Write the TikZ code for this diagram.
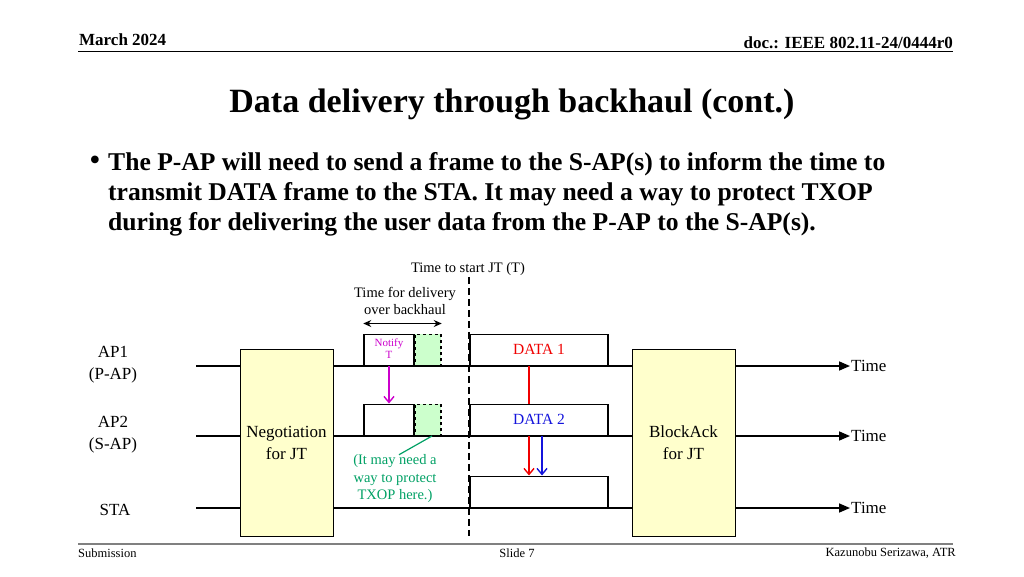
\documentclass[tikz,border=0pt]{standalone}
\usepackage{fontspec}
\setmainfont{Liberation Serif}
\usepackage{tikz}
\usetikzlibrary{arrows.meta,positioning,calc}

\definecolor{jtyellow}{RGB}{255,255,204}
\definecolor{guardgreen}{RGB}{204,255,204}
\definecolor{notifymag}{RGB}{204,0,204}
\definecolor{protgreen}{RGB}{0,160,100}
\definecolor{datared}{RGB}{240,0,0}
\definecolor{datablue}{RGB}{20,20,220}

\tikzset{
  timeline/.style={line width=1.6pt,-{Triangle[length=11pt,width=9pt]}},
  timelbl/.style={anchor=west,inner sep=1pt,font=\fontsize{17}{20}\selectfont},
  stalbl/.style={align=center,font=\fontsize{17}{22}\selectfont},
  jtbox/.style={draw,fill=jtyellow,line width=0.9pt,minimum height=187pt,align=center,
    font=\fontsize{17}{22}\selectfont},
  framebox/.style={draw,fill=white,line width=1.5pt,minimum height=31pt,inner sep=0pt},
  guardbox/.style={draw,fill=guardgreen,dashed,line width=1.5pt,minimum width=26pt,minimum height=31pt,inner sep=0pt},
  smalltxt/.style={align=center,font=\fontsize{14.5}{17.5}\selectfont,inner sep=1pt},
  sigarrow/.style={line width=1.4pt,-{Straight Barb[length=6pt,width=10pt]}}
}

\begin{document}
\begin{tikzpicture}[x=1pt,y=-1pt]
  \useasboundingbox (0,0) rectangle (1024,576);

  % header and footer
  \node[anchor=west,inner sep=0pt,font=\bfseries\fontsize{17}{20}\selectfont] (month) at (79,40) {March 2024};
  \node[anchor=east,inner sep=0pt,font=\bfseries\fontsize{17}{20}\selectfont] (docno) at (953,43) {doc.: IEEE 802.11-24/0444r0};
  \coordinate (hl) at (78,51);
  \coordinate (hr) at (953,51);
  \draw[line width=0.8pt] (hl) -- (hr);
  \coordinate (fl) at (78,544);
  \coordinate (fr) at (953,544);
  \draw[line width=1.6pt,gray] (fl) -- (fr);
  \node[anchor=west,inner sep=0pt,font=\fontsize{12.5}{15}\selectfont] (sub) at (78,553) {Submission};
  \node[inner sep=0pt,font=\fontsize{12.5}{15}\selectfont] (slide) at (517,553) {Slide 7};
  \node[anchor=east,inner sep=0pt,font=\fontsize{12.5}{15}\selectfont] (auth) at (956,553) {Kazunobu Serizawa, ATR};

  % title and bullet
  \node[font=\bfseries\fontsize{34}{40}\selectfont] (title) at (512,104) {Data delivery through backhaul (cont.)};
  \node[font=\fontsize{32}{34}\selectfont,inner sep=0pt] (bul) at (95,163) {\textbullet};
  \node[anchor=west,align=left,inner sep=0pt,font=\bfseries\fontsize{25.6}{30}\selectfont] (txt) at (108,194)
    {The P-AP will need to send a frame to the S-AP(s) to inform the time to\\
     transmit DATA frame to the STA. It may need a way to protect TXOP\\
     during for delivering the user data from the P-AP to the S-AP(s).};

  % stations and time axes
  \node[stalbl] (ap1) at (113,365) {AP1\\(P-AP)};
  \node[stalbl] (ap2) at (113,435) {AP2\\(S-AP)};
  \node[stalbl] (sta) at (115,510) {STA};
  \node[timelbl] (t1) at (850,366) {Time};
  \node[timelbl] (t2) at (850,436) {Time};
  \node[timelbl] (t3) at (850,508) {Time};
  \coordinate (s1) at (196,366);
  \coordinate (s2) at (196,436);
  \coordinate (s3) at (196,508);
  \draw[timeline] (s1) -- (t1.west);
  \draw[timeline] (s2) -- (t2.west);
  \draw[timeline] (s3) -- (t3.west);

  % JT time
  \node[smalltxt] (jtstart) at (468,269) {Time to start JT (T)};
  \coordinate (jtend) at (469,536);
  \draw[line width=1.7pt,dash pattern=on 7pt off 4pt] (jtstart.south -| jtend) -- (jtend);

  % negotiation and blockack
  \node[jtbox,minimum width=93pt] (negot) at (286.5,442.5) {Negotiation\\for JT};
  \node[jtbox,minimum width=103pt] (back) at (683.5,442.5) {BlockAck\\for JT};

  % frames
  \node[framebox,minimum width=50pt,anchor=south] (notify) at (389,366)
    {\color{notifymag}\fontsize{11}{12}\selectfont\begin{tabular}{@{}c@{}}Notify\\T\end{tabular}};
  \node[guardbox,anchor=south] (guard1) at (428,366) {};
  \node[framebox,minimum width=50pt,anchor=south] (fwd) at (389,436) {};
  \node[guardbox,anchor=south] (guard2) at (428,436) {};
  \node[framebox,minimum width=138pt,anchor=south,text=datared,font=\fontsize{15.5}{18}\selectfont] (data1) at (539,366) {DATA 1};
  \node[framebox,minimum width=138pt,anchor=south,text=datablue,font=\fontsize{15.5}{18}\selectfont] (data2) at (539,436) {DATA 2};
  \node[framebox,minimum width=138pt,anchor=south] (data3) at (539,508) {};

  % notes
  \node[smalltxt] (deliv) at (405,301) {Time for delivery\\over backhaul};
  \draw[line width=1pt,{Stealth[length=8pt,width=7pt]}-{Stealth[length=8pt,width=7pt]}]
    ([yshift=10pt]notify.north west) -- ([yshift=10pt]guard1.north east);
  \node[smalltxt,text=protgreen] (prot) at (395,479) {(It may need a\\way to protect\\TXOP here.)};
  \draw[protgreen,line width=1.2pt] ([xshift=4pt]guard2.south) -- ([xshift=4pt,yshift=-1pt]prot.north);

  % signalling
  \draw[sigarrow,notifymag] (notify.south) -- (fwd.north);
  \draw[datared,line width=1.4pt] ([xshift=-10pt]data1.south) -- ([xshift=-10pt]data2.north);
  \draw[sigarrow,datared] ([xshift=-10pt]data2.south) -- ([xshift=-10pt]data3.north);
  \draw[sigarrow,datablue] ([xshift=3pt]data2.south) -- ([xshift=3pt]data3.north);

\end{tikzpicture}
\end{document}
